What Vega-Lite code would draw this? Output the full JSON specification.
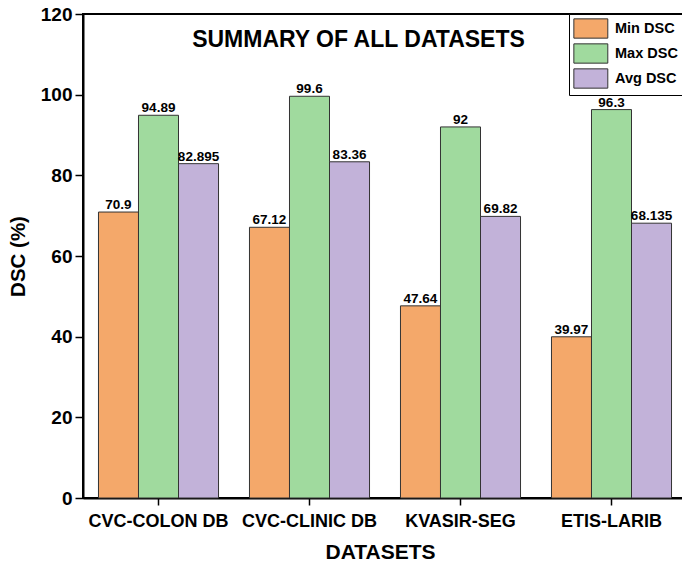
{
  "$schema": "https://vega.github.io/schema/vega-lite/v6.json",
  "autosize": "none",
  "width": 604,
  "height": 484,
  "padding": {"left": 83, "top": 14, "right": 0, "bottom": 68},
  "background": "white",
  "data": {
    "values": [
      {"dataset": "CVC-COLON DB", "metric": "Min DSC", "value": 70.9},
      {"dataset": "CVC-COLON DB", "metric": "Max DSC", "value": 94.89},
      {"dataset": "CVC-COLON DB", "metric": "Avg DSC", "value": 82.895},
      {"dataset": "CVC-CLINIC DB", "metric": "Min DSC", "value": 67.12},
      {"dataset": "CVC-CLINIC DB", "metric": "Max DSC", "value": 99.6},
      {"dataset": "CVC-CLINIC DB", "metric": "Avg DSC", "value": 83.36},
      {"dataset": "KVASIR-SEG", "metric": "Min DSC", "value": 47.64},
      {"dataset": "KVASIR-SEG", "metric": "Max DSC", "value": 92},
      {"dataset": "KVASIR-SEG", "metric": "Avg DSC", "value": 69.82},
      {"dataset": "ETIS-LARIB", "metric": "Min DSC", "value": 39.97},
      {"dataset": "ETIS-LARIB", "metric": "Max DSC", "value": 96.3},
      {"dataset": "ETIS-LARIB", "metric": "Avg DSC", "value": 68.135}
    ]
  },
  "encoding": {
    "x": {
      "field": "dataset",
      "type": "nominal",
      "sort": null,
      "scale": {"paddingInner": 0.205, "paddingOuter": 0.1025},
      "axis": {
        "title": "DATASETS",
        "titleX": 297,
        "labelAngle": 0,
        "labelFont": "Liberation Sans",
        "labelFontSize": 18,
        "labelFontWeight": "bold",
        "labelColor": "black",
        "labelPadding": 7,
        "titleFont": "Liberation Sans",
        "titleFontSize": 21,
        "titleFontWeight": "bold",
        "titleColor": "black",
        "titlePadding": 11,
        "domainColor": "black",
        "domainWidth": 2,
        "tickColor": "black",
        "tickWidth": 1.5,
        "tickSize": 7
      }
    },
    "y": {
      "field": "value",
      "type": "quantitative",
      "scale": {"domain": [0, 120]},
      "axis": {
        "title": "DSC (%)",
        "values": [0, 20, 40, 60, 80, 100, 120],
        "grid": false,
        "labelFont": "Liberation Sans",
        "labelFontSize": 19,
        "labelFontWeight": "bold",
        "labelColor": "black",
        "labelPadding": 3,
        "titleFont": "Liberation Sans",
        "titleFontSize": 20.5,
        "titleFontWeight": "bold",
        "titleColor": "black",
        "titlePadding": 12,
        "domainColor": "black",
        "domainWidth": 2,
        "tickColor": "black",
        "tickWidth": 1.5,
        "tickSize": 8
      }
    }
  },
  "layer": [
    {
      "mark": {"type": "bar", "stroke": "#333333", "strokeWidth": 1},
      "encoding": {
        "xOffset": {"field": "metric", "type": "nominal", "sort": ["Min DSC", "Max DSC", "Avg DSC"]},
        "color": {
          "field": "metric",
          "type": "nominal",
          "sort": ["Min DSC", "Max DSC", "Avg DSC"],
          "scale": {"domain": ["Min DSC", "Max DSC", "Avg DSC"], "range": ["#F4A86A", "#A0DA9E", "#C2B2D9"]},
          "legend": {
            "title": null,
            "orient": "none",
            "legendX": 486,
            "legendY": 0,
            "direction": "vertical",
            "symbolType": "M-1,-1H2.52V1H-1Z",
            "symbolSize": 372,
            "symbolStrokeColor": "#333333",
            "symbolStrokeWidth": 1,
            "symbolOpacity": 1,
            "rowPadding": 0,
            "labelFont": "Liberation Sans",
            "labelFontSize": 14.5,
            "labelFontWeight": "bold",
            "labelColor": "black",
            "labelOffset": 21,
            "strokeColor": "black",
            "padding": 4,
            "fillColor": "white"
          }
        }
      }
    },
    {
      "mark": {"type": "text", "dy": -7, "font": "Liberation Sans", "fontSize": 13.5, "fontWeight": "bold", "color": "black"},
      "encoding": {
        "xOffset": {"field": "metric", "type": "nominal", "sort": ["Min DSC", "Max DSC", "Avg DSC"]},
        "text": {"field": "value", "type": "quantitative"}
      }
    },
    {
      "data": {"values": [{"label": "SUMMARY OF ALL DATASETS", "dataset": "CVC-CLINIC DB", "value": 111.8}]},
      "mark": {"type": "text", "dx": 49, "baseline": "alphabetic", "align": "center", "font": "Liberation Sans", "fontSize": 23, "fontWeight": "bold", "color": "black"},
      "encoding": {
        "text": {"field": "label", "type": "nominal"}
      }
    }
  ],
  "config": {
    "view": {"stroke": "black", "strokeWidth": 2}
  }
}
